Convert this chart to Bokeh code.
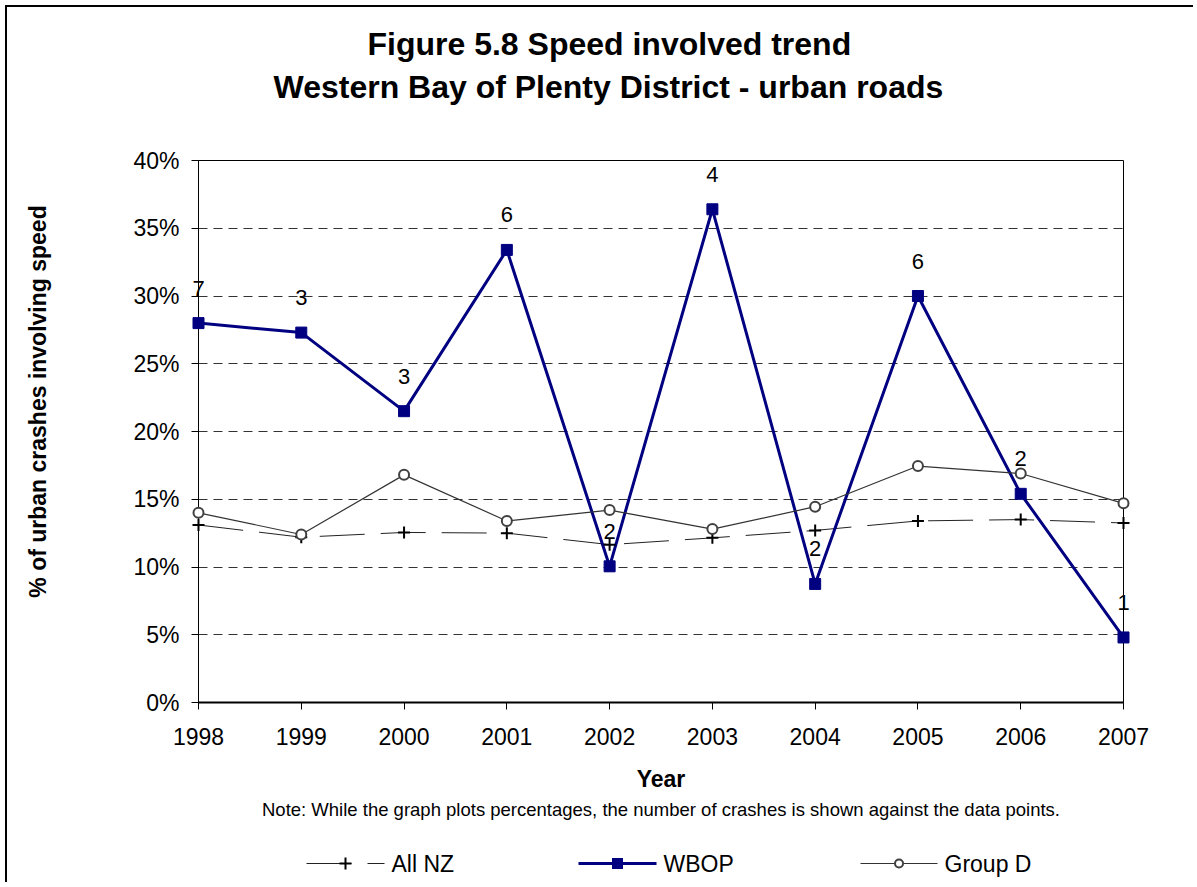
import math
from bokeh.plotting import figure
from bokeh.models import (Range1d, FixedTicker, ColumnDataSource, Title)
from bokeh.embed import file_html
from bokeh.resources import INLINE
from bokeh.core.properties import value

# ---------------- data ----------------
years = [1998, 1999, 2000, 2001, 2002, 2003, 2004, 2005, 2006, 2007]
year_labels = [str(y) for y in years]
all_nz = [13.1, 12.2, 12.55, 12.5, 11.65, 12.15, 12.7, 13.4, 13.5, 13.25]
wbop = [28.0, 27.3, 21.5, 33.4, 10.05, 36.4, 8.75, 30.0, 15.4, 4.8]
group_d = [14.0, 12.4, 16.8, 13.4, 14.2, 12.8, 14.45, 17.45, 16.9, 14.7]
wbop_counts = [7, 3, 3, 6, 2, 4, 2, 6, 2, 1]
y_ticks = [0, 5, 10, 15, 20, 25, 30, 35, 40]
y_tick_labels = ["0%", "5%", "10%", "15%", "20%", "25%", "30%", "35%", "40%"]
series_names = ["All NZ", "WBOP", "Group D"]
title_lines = ["Figure 5.8 Speed involved trend",
               "Western Bay of Plenty District - urban roads"]
x_title = "Year"
y_title = "% of urban crashes involving speed"
note_text = ("Note: While the graph plots percentages, the number of crashes "
             "is shown against the data points.")

FONT = "Liberation Sans"

# ---------------- layout (page pixels) ----------------
W, H = 1188, 877
ORIGIN = 7                      # canvas starts at page (7, 7) after the border
FRAME_L, FRAME_R, FRAME_T, FRAME_B = 198, 1123, 160, 702
X_PER_PX = (years[-1] - years[0]) / (FRAME_R - FRAME_L)
Y_PER_PX = (y_ticks[-1] - y_ticks[0]) / (FRAME_B - FRAME_T)


def px_to_x(px):
    return years[0] + (px - FRAME_L) * X_PER_PX


def py_to_y(py):
    return y_ticks[0] + (FRAME_B - py) * Y_PER_PX


src = ColumnDataSource(dict(year=years, all_nz=all_nz, wbop=wbop, group_d=group_d,
                            count=[str(c) for c in wbop_counts]))

p = figure(width=W, height=H, output_backend="svg", toolbar_location=None,
           x_range=Range1d(years[0], years[-1]), y_range=Range1d(y_ticks[0], y_ticks[-1]),
           min_border_left=FRAME_L - ORIGIN, min_border_right=W + ORIGIN - FRAME_R,
           min_border_top=FRAME_T - ORIGIN, min_border_bottom=H + ORIGIN - FRAME_B)
p.styles = {"margin-left": "5px", "margin-top": "5px",
            "border-left": "2px solid black", "border-top": "2px solid black"}
p.background_fill_color = "white"
p.border_fill_color = "white"
p.outline_line_color = "black"
p.outline_line_width = 1

# ---------------- axes ----------------
xa = p.xaxis[0]
xa.ticker = FixedTicker(ticks=years)
xa.major_label_overrides = dict(zip(years, year_labels))
xa.major_tick_out = 7
xa.major_tick_in = 0
xa.minor_tick_out = 0
xa.minor_tick_in = 0
xa.axis_line_width = 2
xa.axis_line_color = "black"
xa.major_tick_line_color = "black"
xa.major_label_standoff = 18
xa.major_label_text_font = FONT
xa.major_label_text_font_size = "23px"
xa.major_label_text_color = "black"
xa.axis_label = x_title
xa.axis_label_standoff = 18
xa.axis_label_text_font = FONT
xa.axis_label_text_font_size = "23px"
xa.axis_label_text_font_style = "bold"
xa.axis_label_text_color = "black"

ya = p.yaxis[0]
ya.ticker = FixedTicker(ticks=y_ticks)
ya.major_label_overrides = dict(zip(y_ticks, y_tick_labels))
ya.major_tick_out = 7
ya.major_tick_in = 0
ya.minor_tick_out = 0
ya.minor_tick_in = 0
ya.axis_line_color = "black"
ya.axis_line_width = 1
ya.major_tick_line_color = "black"
ya.major_label_standoff = 12
ya.major_label_text_font = FONT
ya.major_label_text_font_size = "23px"
ya.major_label_text_color = "black"

p.xgrid.visible = False
p.ygrid.grid_line_color = "#333333"
p.ygrid.grid_line_width = 1
p.ygrid.grid_line_dash = "9 6"

# ---------------- series ----------------
NZ_STYLE = dict(line_color="#222222", line_width=1, line_dash="45 16")
WB_STYLE = dict(line_color="#000080", line_width=3)
GD_STYLE = dict(line_color="#333333", line_width=1.2)

p.line("year", "all_nz", source=src, **NZ_STYLE)
p.line("year", "wbop", source=src, **WB_STYLE)
p.line("year", "group_d", source=src, **GD_STYLE)
p.scatter("year", "all_nz", source=src, level="overlay", marker="cross", size=12,
          line_color="black", line_width=2)
p.scatter("year", "wbop", source=src, level="overlay", marker="square", size=11,
          fill_color="#000080", line_color="#000080")
p.scatter("year", "group_d", source=src, level="overlay", marker="circle", size=10,
          line_color="#404040", line_width=2, fill_color="white")

# crash counts above the WBOP points
p.text("year", "wbop", text="count", source=src, y_offset=-35, level="overlay",
       text_align="center", text_baseline="middle", text_font=value(FONT),
       text_font_size=value("22px"), text_color="black")

# y axis title
p.text(x=[px_to_x(37.5)], y=[py_to_y(401)], text=[y_title], angle=math.pi / 2,
       level="overlay", text_align="center", text_baseline="middle",
       text_font=value(FONT), text_font_size=value("23px"),
       text_font_style=value("bold"), text_color="black")

# ---------------- titles (above) ----------------
p.add_layout(Title(text=" ", text_font_size="2px", standoff=52), "above")
p.add_layout(Title(text=title_lines[1], align="left", offset=75, standoff=0,
                   text_font=FONT, text_font_size="32px", text_font_style="bold",
                   text_color="black"), "above")
p.add_layout(Title(text=title_lines[0], align="left", offset=169, standoff=9,
                   text_font=FONT, text_font_size="32px", text_font_style="bold",
                   text_color="black"), "above")

# ---------------- note (below) ----------------
p.add_layout(Title(text=note_text, align="center", standoff=5, text_font=FONT,
                   text_font_size="18.5px", text_font_style="normal",
                   text_color="black"), "below")

# ---------------- legend (drawn below the plot area) ----------------
LEG_PY = 863
LEG_Y = py_to_y(LEG_PY)
leg_line_px = [(306, 384), (578, 656), (860, 937)]
for (x0, x1), ls in zip(leg_line_px, [NZ_STYLE, WB_STYLE, GD_STYLE]):
    p.line([px_to_x(x0), px_to_x(x1)], [LEG_Y, LEG_Y], level="overlay", **ls)

# legend symbols (same look as the plot markers)
cx = [(a + b) / 2 for a, b in leg_line_px]
# cross "+"
p.line([px_to_x(cx[0] - 6), px_to_x(cx[0] + 6)], [LEG_Y, LEG_Y], level="overlay",
       line_color="black", line_width=2)
p.line([px_to_x(cx[0])] * 2, [py_to_y(LEG_PY - 6), py_to_y(LEG_PY + 6)], level="overlay",
       line_color="black", line_width=2)
# filled square
p.line([px_to_x(cx[1] - 5.5), px_to_x(cx[1] + 5.5)], [LEG_Y, LEG_Y], level="overlay",
       line_color="#000080", line_width=11, line_cap="butt")
# hollow circle
p.line([px_to_x(cx[2]), px_to_x(cx[2] + 0.05)], [LEG_Y, LEG_Y], level="overlay",
       line_color="#404040", line_width=10, line_cap="round")
p.line([px_to_x(cx[2]), px_to_x(cx[2] + 0.05)], [LEG_Y, LEG_Y], level="overlay",
       line_color="white", line_width=6, line_cap="round")

p.text(x=[px_to_x(x1 + 7) for _, x1 in leg_line_px], y=[LEG_Y] * 3, text=series_names,
       level="overlay", text_align="left", text_baseline="middle",
       text_font=value(FONT), text_font_size=value("23px"), text_color="black")

open("out.html", "w").write(file_html(p, INLINE))
